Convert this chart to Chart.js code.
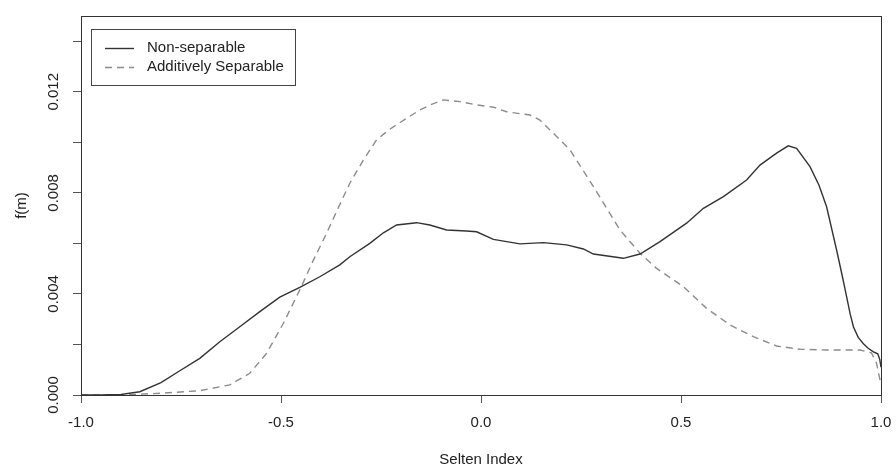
<!DOCTYPE html>
<html>
<head>
<meta charset="utf-8">
<script src="https://cdn.jsdelivr.net/npm/chart.js@4.4.1/dist/chart.umd.min.js"></script>
<style>
  html, body { margin: 0; padding: 0; background: #fff; }
  #wrap { width: 896px; height: 468px; }
</style>
</head>
<body>
<div id="wrap"><canvas id="myChart" width="896" height="468"></canvas></div>
<script>
// Non-separable (solid)
const nonSepX = [-1.0, -0.95, -0.9, -0.853, -0.8, -0.753, -0.703, -0.653, -0.603, -0.553, -0.503, -0.453, -0.403, -0.353, -0.328, -0.278, -0.244, -0.211, -0.161, -0.128, -0.086, -0.036, -0.011, 0.031, 0.0975, 0.156, 0.214, 0.256, 0.281, 0.356, 0.3975, 0.4475, 0.514, 0.556, 0.606, 0.664, 0.6975, 0.739, 0.768, 0.789, 0.8225, 0.845, 0.864, 0.889, 0.904, 0.914, 0.923, 0.931, 0.943, 0.956, 0.968, 0.981, 0.992, 0.997, 1.0];
const nonSepY = [0, 0, 0.00002, 0.00013, 0.00049, 0.00096, 0.00145, 0.00211, 0.0027, 0.0033, 0.00387, 0.00426, 0.00468, 0.00515, 0.00547, 0.006, 0.00642, 0.00673, 0.00682, 0.00673, 0.00653, 0.00649, 0.00646, 0.00616, 0.00598, 0.00603, 0.00594, 0.00578, 0.00558, 0.00541, 0.00558, 0.00607, 0.0068, 0.00739, 0.00785, 0.00851, 0.0091, 0.00957, 0.00986, 0.00976, 0.00904, 0.0083, 0.00745, 0.00574, 0.00465, 0.00389, 0.0032, 0.0027, 0.00228, 0.00203, 0.00185, 0.00171, 0.00163, 0.0014, 0.0011];

// Additively Separable (dashed)
const addSepX = [-1.0, -0.9, -0.8, -0.703, -0.628, -0.578, -0.536, -0.494, -0.453, -0.419, -0.386, -0.36, -0.328, -0.294, -0.261, -0.228, -0.186, -0.153, -0.1275, -0.094, -0.0525, -0.011, 0.031, 0.064, 0.1225, 0.1475, 0.1725, 0.2225, 0.281, 0.3475, 0.3975, 0.439, 0.506, 0.564, 0.6225, 0.681, 0.739, 0.7975, 0.864, 0.9475, 0.976, 0.989, 1.0];
const addSepY = [0, 0, 0.00007, 0.00017, 0.0004, 0.00086, 0.00165, 0.00284, 0.00416, 0.00534, 0.0064, 0.0073, 0.00838, 0.0093, 0.0101, 0.01052, 0.01095, 0.01128, 0.01148, 0.01168, 0.01161, 0.01148, 0.01139, 0.01121, 0.01108, 0.01088, 0.01049, 0.0097, 0.00825, 0.00653, 0.00561, 0.00501, 0.00429, 0.00343, 0.00277, 0.00231, 0.00194, 0.00181, 0.00178, 0.00178, 0.00167, 0.00125, 0.0004];

const seriesNames = ["Non-separable", "Additively Separable"];
const xTicks = [-1.0, -0.5, 0.0, 0.5, 1.0];
const xLabels = ["-1.0", "-0.5", "0.0", "0.5", "1.0"];
const yTicks = [0, 0.002, 0.004, 0.006, 0.008, 0.010, 0.012, 0.014];
const yLabels = ["0.000", "", "0.004", "", "0.008", "", "0.012", ""];
const xTitle = "Selten Index";
const yTitle = "f(m)";

const FONT = "'Liberation Sans', Arial, Helvetica, sans-serif";

function toPoints(xs, ys) {
  return xs.map((x, i) => ({ x: x, y: ys[i] }));
}

// box, tick labels, axis titles and legend in R style
const rStyle = {
  id: "rStyle",
  afterDraw(chart) {
    const ctx = chart.ctx;
    const a = chart.chartArea;
    const xs = chart.scales.x;
    const ys = chart.scales.y;
    ctx.save();
    ctx.strokeStyle = "#333";
    ctx.lineWidth = 1;
    ctx.strokeRect(Math.round(a.left) + 0.5, Math.round(a.top) + 0.5,
      Math.round(a.right - a.left), Math.round(a.bottom - a.top));

    ctx.fillStyle = "#222";
    ctx.font = "15px " + FONT;
    ctx.textAlign = "center";
    ctx.textBaseline = "middle";
    xTicks.forEach((v, i) => {
      ctx.fillText(xLabels[i], xs.getPixelForValue(v), 423);
    });
    yTicks.forEach((v, i) => {
      if (!yLabels[i]) return;
      ctx.save();
      ctx.translate(54, ys.getPixelForValue(v));
      ctx.rotate(-Math.PI / 2);
      ctx.fillText(yLabels[i], 0, 0);
      ctx.restore();
    });

    ctx.fillText(xTitle, (a.left + a.right) / 2, 460);
    ctx.save();
    ctx.translate(22, (a.top + a.bottom) / 2);
    ctx.rotate(-Math.PI / 2);
    ctx.fillText(yTitle, 0, 0);
    ctx.restore();

    // legend
    ctx.strokeStyle = "#444";
    ctx.strokeRect(91.5, 29.5, 204, 56);
    const rows = [48, 67];
    chart.data.datasets.forEach((ds, i) => {
      ctx.strokeStyle = ds.borderColor;
      ctx.lineWidth = ds.borderWidth;
      ctx.setLineDash(ds.borderDash || []);
      ctx.beginPath();
      ctx.moveTo(105, rows[i] + 0.5);
      ctx.lineTo(134, rows[i] + 0.5);
      ctx.stroke();
      ctx.setLineDash([]);
      ctx.fillStyle = "#222";
      ctx.textAlign = "left";
      ctx.fillText(ds.label, 147, rows[i]);
    });
    ctx.restore();
  }
};

const data = {
  datasets: [
    {
      label: seriesNames[0],
      data: toPoints(nonSepX, nonSepY),
      borderColor: "#333333",
      borderWidth: 1.4,
      pointRadius: 0,
      tension: 0,
      fill: false,
    },
    {
      label: seriesNames[1],
      data: toPoints(addSepX, addSepY),
      borderColor: "#8c8c8c",
      borderWidth: 1.4,
      borderDash: [7, 5],
      pointRadius: 0,
      tension: 0,
      fill: false,
    },
  ],
};

const config = {
  type: "line",
  data: data,
  options: {
    responsive: false,
    animation: false,
    events: [],
    layout: { padding: { left: 0, top: 16, right: 15, bottom: 0 } },
    plugins: { legend: { display: false }, tooltip: { enabled: false } },
    scales: {
      x: {
        type: "linear",
        min: -1,
        max: 1,
        afterBuildTicks: (s) => { s.ticks = xTicks.map((v) => ({ value: v })); },
        afterFit: (s) => { s.height = 73; },
        grid: { drawOnChartArea: false, drawTicks: true, tickLength: 8, color: "#555", lineWidth: 1 },
        border: { display: true, color: "#333", width: 1 },
        ticks: { display: false },
      },
      y: {
        type: "linear",
        min: 0,
        max: 0.015,
        afterBuildTicks: (s) => { s.ticks = yTicks.map((v) => ({ value: v })); },
        afterFit: (s) => { s.width = 81; },
        grid: { drawOnChartArea: false, drawTicks: true, tickLength: 8, color: "#555", lineWidth: 1 },
        border: { display: true, color: "#333", width: 1 },
        ticks: { display: false },
      },
    },
  },
  plugins: [rStyle],
};

new Chart(document.getElementById("myChart"), config);
</script>
</body>
</html>
